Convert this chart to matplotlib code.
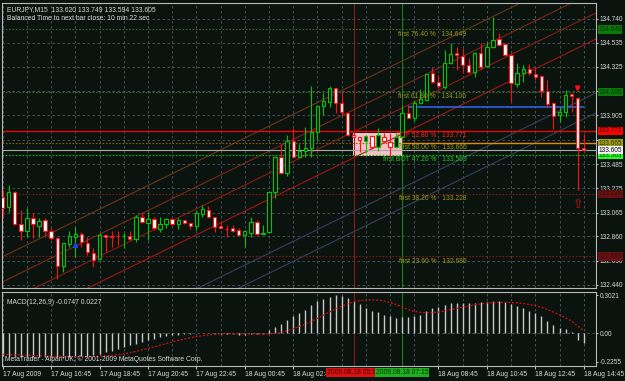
import matplotlib
matplotlib.use("Agg")
import matplotlib.pyplot as plt
from matplotlib.patches import Rectangle

plt.rcParams['font.family'] = ['Liberation Sans', 'DejaVu Sans']

bg = '#0b130e'
grid_c = '#4f5963'
txt_c = '#d8d8d8'
bull_c = '#00c800'
bear_c = '#ff1010'
fs = 4.9
fs_axis = 4.7

# EURJPY M15 candles, 17 Aug 14:45 .. 18 Aug 14:45
opens = [133.200, 133.113, 133.243, 132.966, 132.906, 133.018, 132.949, 133.001, 132.906, 132.845,
         132.603, 132.793, 132.854, 132.880, 132.802, 132.716, 132.664, 132.871, 132.863, 132.863,
         132.860, 132.863, 132.837, 133.027, 132.975, 133.010, 132.923, 132.966, 133.010, 132.966,
         133.001, 132.975, 132.949, 133.053, 133.087, 133.027, 132.949, 132.923, 132.932, 132.915,
         132.871, 132.889, 132.984, 132.880, 132.897, 133.243, 133.546, 133.408, 133.684, 133.546,
         133.598, 133.624, 133.762, 133.987, 134.022, 134.143, 134.013, 133.927, 133.736, 133.719,
         133.684, 133.728, 133.632, 133.719, 133.676, 133.632, 133.719, 133.927, 133.883, 134.013,
         134.039, 134.273, 134.195, 134.152, 134.359, 134.446, 134.420, 134.342, 134.281, 134.446,
         134.333, 134.497, 134.567, 134.523, 134.428, 134.178, 134.273, 134.307, 134.264, 134.247,
         134.117, 134.013, 133.909, 133.935, 134.091, 134.056, 133.620]
highs = [133.260, 133.304, 133.250, 133.087, 133.105, 133.061, 133.018, 133.018, 132.932, 132.854,
         132.802, 132.906, 132.940, 132.897, 132.854, 132.759, 132.889, 132.871, 132.906, 132.906,
         132.889, 132.906, 133.044, 133.061, 133.070, 133.027, 133.027, 133.018, 133.018, 133.018,
         133.001, 132.975, 133.087, 133.131, 133.122, 133.027, 132.984, 132.958, 132.958, 132.932,
         132.915, 133.027, 133.001, 132.958, 133.243, 133.555, 133.658, 133.736, 133.797, 133.658,
         133.806, 134.160, 133.996, 134.100, 134.160, 134.143, 134.108, 133.927, 133.736, 133.719,
         133.736, 133.728, 133.797, 133.754, 133.754, 133.754, 133.987, 133.996, 134.039, 134.134,
         134.264, 134.324, 134.255, 134.472, 134.532, 134.497, 134.489, 134.402, 134.454, 134.532,
         134.541, 134.757, 134.619, 134.532, 134.446, 134.359, 134.342, 134.350, 134.316, 134.255,
         134.212, 134.022, 133.978, 134.126, 134.100, 134.065, 133.749]
lows = [133.018, 133.070, 132.958, 132.828, 132.854, 132.845, 132.854, 132.854, 132.828, 132.491,
        132.551, 132.767, 132.681, 132.767, 132.698, 132.594, 132.655, 132.724, 132.767, 132.785,
        132.759, 132.828, 132.811, 132.975, 132.828, 132.915, 132.897, 132.932, 132.958, 132.923,
        132.966, 132.923, 132.915, 133.027, 133.018, 132.897, 132.932, 132.854, 132.897, 132.863,
        132.767, 132.854, 132.871, 132.880, 132.889, 133.191, 133.399, 133.382, 133.537, 133.537,
        133.546, 133.546, 133.693, 133.909, 133.978, 133.927, 133.909, 133.728, 133.719, 133.589,
        133.581, 133.624, 133.598, 133.667, 133.546, 133.624, 133.719, 133.883, 133.857, 134.004,
        134.039, 134.186, 134.143, 134.134, 134.350, 134.299, 134.273, 134.273, 134.238, 134.299,
        134.324, 134.489, 134.506, 134.420, 134.022, 134.152, 134.195, 134.255, 134.212, 134.065,
        133.978, 133.788, 133.849, 133.892, 133.935, 133.260, 133.594]
closes = [133.105, 133.243, 132.966, 132.906, 133.018, 132.966, 132.992, 132.906, 132.845, 132.603,
          132.802, 132.863, 132.880, 132.811, 132.724, 132.655, 132.871, 132.854, 132.854, 132.860,
          132.863, 132.837, 133.027, 132.984, 133.010, 132.932, 132.966, 133.010, 132.966, 133.001,
          132.975, 132.949, 133.061, 133.096, 133.027, 132.940, 132.932, 132.920, 132.906, 132.871,
          132.906, 132.984, 132.880, 132.889, 133.243, 133.546, 133.408, 133.684, 133.546, 133.598,
          133.624, 133.762, 133.987, 134.030, 134.143, 134.013, 133.935, 133.736, 133.719, 133.693,
          133.728, 133.632, 133.736, 133.684, 133.632, 133.719, 133.927, 133.883, 134.013, 134.048,
          134.264, 134.195, 134.160, 134.359, 134.437, 134.428, 134.342, 134.281, 134.446, 134.324,
          134.497, 134.558, 134.515, 134.428, 134.186, 134.273, 134.307, 134.273, 134.238, 134.117,
          134.004, 133.901, 133.935, 134.082, 134.074, 133.620, 133.605]

macd_main = [-0.175, -0.178, -0.182, -0.186, -0.188, -0.190, -0.190, -0.190, -0.190, -0.190,
             -0.195, -0.190, -0.185, -0.180, -0.175, -0.170, -0.160, -0.150, -0.140, -0.125,
             -0.110, -0.095, -0.080, -0.065, -0.050, -0.040, -0.030, -0.020, -0.015, -0.010,
             -0.006, -0.004, 0.003, 0.006, 0.004, -0.002, -0.004, -0.006, -0.008, -0.010,
             -0.010, -0.005, -0.006, -0.006, 0.025, 0.050, 0.075, 0.110, 0.140, 0.160,
             0.190, 0.225, 0.255, 0.270, 0.290, 0.305, 0.300, 0.280, 0.260, 0.230,
             0.200, 0.180, 0.170, 0.150, 0.140, 0.120, 0.130, 0.130, 0.140, 0.150,
             0.180, 0.200, 0.210, 0.225, 0.240, 0.245, 0.245, 0.240, 0.245, 0.250,
             0.250, 0.260, 0.260, 0.250, 0.230, 0.215, 0.200, 0.180, 0.160, 0.140,
             0.100, 0.065, 0.045, 0.035, 0.015, -0.050, -0.0747]
macd_signal = [-0.165, -0.167, -0.169, -0.171, -0.173, -0.175, -0.177, -0.178, -0.180, -0.181,
               -0.182, -0.183, -0.184, -0.184, -0.183, -0.182, -0.180, -0.177, -0.173, -0.168,
               -0.161, -0.152, -0.142, -0.131, -0.119, -0.106, -0.093, -0.080, -0.067, -0.055,
               -0.044, -0.034, -0.025, -0.017, -0.011, -0.006, -0.003, -0.001, -0.001, -0.002,
               -0.003, -0.004, -0.005, -0.006, -0.004, 0.002, 0.010, 0.022, 0.037, 0.055,
               0.075, 0.097, 0.120, 0.145, 0.170, 0.195, 0.215, 0.235, 0.250, 0.260,
               0.265, 0.267, 0.265, 0.258, 0.245, 0.230, 0.210, 0.190, 0.175, 0.168,
               0.165, 0.166, 0.170, 0.178, 0.188, 0.198, 0.208, 0.218, 0.227, 0.235,
               0.241, 0.245, 0.247, 0.247, 0.246, 0.243, 0.238, 0.230, 0.220, 0.207,
               0.190, 0.170, 0.148, 0.124, 0.098, 0.060, 0.0227]

price_ticks = [134.740, 134.535, 134.325, 134.115, 133.905, 133.695, 133.485,
               133.275, 133.065, 132.860, 132.650, 132.440]
price_tick_labels = ['134.740', '134.535', '134.325', '', '133.905', '', '133.485',
                     '133.275', '133.065', '132.860', '132.650', '132.440']

time_tick_bars = [0, 8, 16, 24, 32, 40, 48, 72, 80, 88, 96]
time_tick_labels = ['17 Aug 2009', '17 Aug 16:45', '17 Aug 18:45', '17 Aug 20:45',
                    '17 Aug 22:45', '18 Aug 00:45', '18 Aug 02:45', '18 Aug 08:45',
                    '18 Aug 10:45', '18 Aug 12:45', '18 Aug 14:45']
grid_bars = list(range(0, 97, 4))

# fibo levels
fib_prices = [134.649, 134.106, 133.771, 133.665, 133.563, 133.228, 132.686]
fib_texts = ['first 76.40 %   134.649', 'first 61.80 %   134.106', 'TOP 52.80 %   133.771',
             'first 50.00 %   133.665', 'first BOT 47.20 %   133.563', 'first 38.20 %   133.228',
             'first 23.60 %   132.686']
fib_text_colors = ['#9a9a20', '#9a9a20', '#ff2020', '#9a9a20', '#20d020', '#9a9a20', '#9a9a20']
fib_line_colors = ['#3c6a1c', '#3c6a1c', '#ff0000', '#8a5a10', '#10c010', '#7a1a10', '#7a1a10']
fib_box_bg = ['#0a7a0a', '#0a7a0a', '#ff0000', '#a0a020', '#20ff20', '#6a1010', '#6a1010']
fib_box_fg = ['#063006', '#063006', '#300000', '#303000', '#003000', '#301010', '#301010']

bid_price = 133.605
blue_level = 133.978
blue_from_bar = 67
blue_to_bar = 96
orange_from_bar = 66

# channel lines: (bar0, price0, bar1, price1, colour)
channel_lines = [(0, 132.684, 98, 135.197, '#6a361a'),
                 (0, 132.467, 98, 134.981, '#7a2a18'),
                 (0, 132.277, 98, 134.791, '#8a1c14'),
                 (0, 132.052, 98, 134.566, '#a51515'),
                 (0, 131.585, 98, 134.099, '#34425a'),
                 (0, 131.412, 98, 133.926, '#34425a')]

box_bar0, box_bar1 = 57.9, 66.0
box_lo, box_hi = 133.555, 133.757
vline_red_bar, vline_green_bar = 58, 66
red_stamp, green_stamp = '2009.08.18 05:15', '2009.08.18 07:15'

fig = plt.figure(figsize=(6.25, 3.81), dpi=100)
fig.patch.set_facecolor(bg)
ax = fig.add_axes([2 / 625, 1 - 288 / 381, 594 / 625, 285 / 381])
ax2 = fig.add_axes([2 / 625, 1 - 366 / 381, 594 / 625, 74 / 381])

xlim = (-0.116, 98.03)
for a in (ax, ax2):
    a.set_facecolor(bg)
    a.set_xlim(*xlim)
    for s in a.spines.values():
        s.set_color('#b8b8b8')
        s.set_linewidth(0.8)
    for gb in grid_bars:
        a.axvline(gb, color=grid_c, lw=0.6, ls=(0, (3, 3)), zorder=0)
    a.axvline(vline_red_bar, color='#a01818', lw=0.7, zorder=1)
    a.axvline(vline_green_bar, color='#108a10', lw=0.7, zorder=1)

ax.set_ylim(132.413, 134.878)
for p in price_ticks:
    ax.axhline(p, color=grid_c, lw=0.6, ls=(0, (3, 3)), zorder=0)

ax.add_patch(Rectangle((box_bar0, box_lo), box_bar1 - box_bar0, box_hi - box_lo,
                       facecolor='#f6bfc6', edgecolor='none', zorder=0.5))

# fib dotted lines across chart
for p, c in zip(fib_prices, fib_line_colors):
    if c == '#ff0000':
        ax.axhline(p, color=c, lw=0.9, zorder=2)
    else:
        ax.axhline(p, color=c, lw=0.8, ls=(0, (1.5, 1.5)), zorder=2)
ax.hlines(fib_prices[3], orange_from_bar, xlim[1], color='#e08a10', lw=1.0, zorder=2)
ax.axhline(bid_price, color='#a8a8a8', lw=0.8, zorder=2)
ax.hlines(blue_level, blue_from_bar, blue_to_bar, color='#3060e0', lw=1.2, zorder=2)

for b0, p0, b1, p1, c in channel_lines:
    ax.plot([b0, b1], [p0, p1], color=c, lw=0.8, zorder=1)

# candles
w = 0.55
for k in range(len(opens)):
    o, h, l, c = opens[k], highs[k], lows[k], closes[k]
    up = c >= o
    col = bull_c if up else bear_c
    ax.vlines(k, l, h, color=col, lw=0.8, zorder=3)
    lo, hi = min(o, c), max(o, c)
    if hi - lo < 0.004:
        ax.hlines((o + c) / 2, k - w / 2, k + w / 2, color=col, lw=1.0, zorder=4)
    else:
        ax.add_patch(Rectangle((k - w / 2, lo), w, hi - lo, facecolor=bg if up else 'white',
                               edgecolor=col, lw=0.8, zorder=4))

# markers
ax.plot([12], [132.785], marker='^', color='#2040ff', ms=3, zorder=5)
ax.annotate('', xy=(95, 134.085), xytext=(95, 134.175),
            arrowprops=dict(arrowstyle='-|>', color='#ff1010', lw=1.4, mutation_scale=6), zorder=6)
ax.text(95, 133.131, '\u21e7', color='#d01010', fontsize=9, ha='center', va='center',
        family='DejaVu Sans', zorder=6)

# fib texts
for p, t, c in zip(fib_prices, fib_texts, fib_text_colors):
    ax.text(76.6, p - 0.01, t, color=c, fontsize=fs, ha='right', va='top', zorder=6)

# header
ax.text(0.008, 0.988, 'EURJPY,M15  133.620 133.749 133.594 133.605', transform=ax.transAxes,
        color=txt_c, fontsize=fs, va='top', ha='left')
ax.text(0.008, 0.958, 'Balanced Time to next bar close: 10 min 22 sec', transform=ax.transAxes,
        color=txt_c, fontsize=fs, va='top', ha='left')

# right price axis
ax.yaxis.tick_right()
ax.set_yticks(price_ticks)
ax.set_yticklabels(price_tick_labels)
ax.tick_params(axis='y', colors='#b8b8b8', labelcolor=txt_c, labelsize=fs_axis, length=1.5, pad=1)
ax.set_xticks([])
ytr = ax.get_yaxis_transform()
for p, bgc, fgc in zip(fib_prices, fib_box_bg, fib_box_fg):
    ax.text(1.004, p, '%.3f' % p, transform=ytr, color=fgc, fontsize=fs_axis, ha='left', va='center',
            bbox=dict(boxstyle='square,pad=0.1', facecolor=bgc, edgecolor='none'), clip_on=False, zorder=10)
ax.text(1.004, bid_price, '%.3f' % bid_price, transform=ytr, color='#101010', fontsize=fs_axis,
        ha='left', va='center', bbox=dict(boxstyle='square,pad=0.1', facecolor='#f0f0f0', edgecolor='none'),
        clip_on=False, zorder=11)

# MACD panel
ax2.set_ylim(-0.258, 0.329)
ax2.axhline(0, color=grid_c, lw=0.6, ls=(0, (3, 3)), zorder=0)
ax2.vlines(range(len(macd_main)), 0, macd_main, color='#c8c8c8', lw=1.0, zorder=2)
ax2.plot(range(len(macd_signal)), macd_signal, color='#e01010', lw=0.9, ls=(0, (1.5, 1.5)), zorder=3)
ax2.text(0.008, 0.9, 'MACD(12,26,9) -0.0747 0.0227', transform=ax2.transAxes, color=txt_c,
         fontsize=fs, va='top', ha='left')
ax2.text(0.005, 0.04, 'MetaTrader - Alpari UK, \u00a9 2001-2009 MetaQuotes Software Corp.',
         transform=ax2.transAxes, color=txt_c, fontsize=fs, va='bottom', ha='left')
ax2.yaxis.tick_right()
ax2.set_yticks([0.3021, 0.0, -0.2255])
ax2.set_yticklabels(['0.3021', '0.00', '-0.2255'])
ax2.tick_params(axis='y', colors='#b8b8b8', labelcolor=txt_c, labelsize=fs_axis, length=1.5, pad=1)

ax2.set_xticks(time_tick_bars)
ax2.set_xticklabels(time_tick_labels)
ax2.tick_params(axis='x', colors='#b8b8b8', labelcolor=txt_c, labelsize=fs, length=2, pad=1.5)
for lab in ax2.get_xticklabels():
    lab.set_ha('left')
xtr = ax2.get_xaxis_transform()
ax2.text(vline_red_bar, -0.045, red_stamp, transform=xtr, color='#300000', fontsize=fs, ha='center',
         va='top', bbox=dict(boxstyle='square,pad=0.15', facecolor='#e01010', edgecolor='none'),
         clip_on=False, zorder=10)
ax2.text(vline_green_bar, -0.045, green_stamp, transform=xtr, color='#003000', fontsize=fs,
         ha='center', va='top', bbox=dict(boxstyle='square,pad=0.15', facecolor='#20b020', edgecolor='none'),
         clip_on=False, zorder=10)

fig.savefig('out.png', dpi=100, facecolor=bg)
